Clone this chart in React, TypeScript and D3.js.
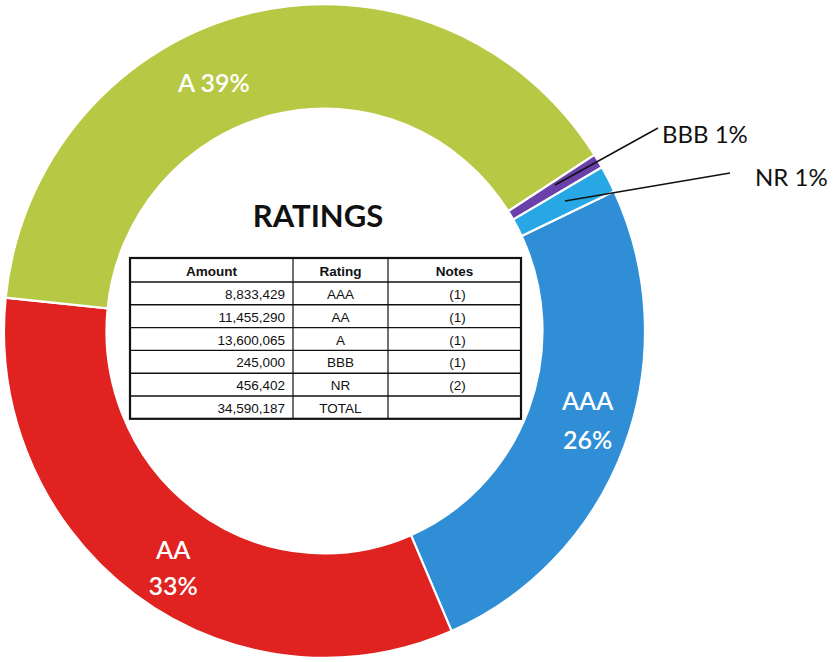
import React from "react";
import * as d3 from "d3";

const ratings = ["AAA", "AA", "A", "BBB", "NR"];
const amounts = [8833429, 11455290, 13600065, 245000, 456402];
const notes = ["(1)", "(1)", "(1)", "(1)", "(2)"];
const colors = ["#2f8ed6", "#e02220", "#b7c845", "#6a40ab", "#27a8e4"];
const totalLabel = "TOTAL";
const totalAmount = 34590187;
const headers = ["Amount", "Rating", "Notes"];

const W = 837;
const H = 662;
const cx = 324.5;
const cy = 331;
const rOuter = 320.5;
const rInner = 218;
const yScale = 1.02;

export default function App() {
  const fmt = d3.format(",");
  const pie = d3
    .pie<number>()
    .sort(null)
    .startAngle((64.7 * Math.PI) / 180)
    .endAngle((64.7 * Math.PI) / 180 + 2 * Math.PI);
  const arcs = pie(amounts);
  const arcGen = d3.arc<d3.PieArcDatum<number>>().innerRadius(rInner).outerRadius(rOuter);

  const pct = (v: number) => `${Math.round((v / totalAmount) * 100)}%`;

  const labelAt = (i: number, angleOffsetDeg: number, r: number) => {
    const a = (arcs[i].startAngle + arcs[i].endAngle) / 2 + (angleOffsetDeg * Math.PI) / 180;
    return [cx + r * Math.sin(a), cy - r * Math.cos(a) * yScale];
  };
  const [aaaX, aaaY] = labelAt(0, -2.5, 277);
  const [aaX, aaY] = labelAt(1, -3, 276);
  const [aX, aY] = labelAt(2, -11, 268);

  const tx0 = 130;
  const colX = [130, 293, 388, 521];
  const headerH = 24;
  const rowH = 22.8;
  const ty0 = 258;
  const rows = ratings.map((r, i) => [fmt(amounts[i]), r, notes[i]]);
  rows.push([fmt(totalAmount), totalLabel, ""]);
  const tableBottom = ty0 + headerH + rowH * rows.length;

  const labelFont = "Lato, 'Open Sans', sans-serif";
  const tableFont = "'Liberation Sans', Arial, sans-serif";

  return (
    <div style={{ position: "fixed", left: 0, top: 0, width: W, height: H, background: "#fff" }}>
      <svg width={W} height={H} viewBox={`0 0 ${W} ${H}`}>
        <rect width={W} height={H} fill="#ffffff" />
        <g transform={`translate(${cx},${cy}) scale(1,${yScale})`}>
          {arcs.map((a, i) => (
            <path key={ratings[i]} d={arcGen(a) || ""} fill={colors[i]} stroke="#ffffff" strokeWidth={2.2} />
          ))}
        </g>

        <g fill="#fff" fontFamily={labelFont} fontSize={25} fontWeight={600} textAnchor="middle" dominantBaseline="central">
          <text x={aX} y={aY}>{`${ratings[2]} ${pct(amounts[2])}`}</text>
          <text x={aaaX} y={aaaY - 19}>{ratings[0]}</text>
          <text x={aaaX} y={aaaY + 20}>{pct(amounts[0])}</text>
          <text x={aaX} y={aaY - 17}>{ratings[1]}</text>
          <text x={aaX} y={aaY + 19}>{pct(amounts[1])}</text>
        </g>

        <line x1={658} y1={128} x2={555} y2={185} stroke="#111" strokeWidth={1.5} />
        <text x={662} y={133} fill="#111" fontFamily={labelFont} fontSize={24} dominantBaseline="central">
          {`${ratings[3]} ${pct(amounts[3])}`}
        </text>
        <line x1={730} y1={173} x2={565} y2={201} stroke="#111" strokeWidth={1.5} />
        <text x={755} y={176} fill="#111" fontFamily={labelFont} fontSize={24} dominantBaseline="central">
          {`${ratings[4]} ${pct(amounts[4])}`}
        </text>

        <text x={318} y={215} fill="#111" fontFamily={labelFont} fontWeight={700} fontSize={31} textAnchor="middle" dominantBaseline="central">
          RATINGS
        </text>

        <g fontFamily={tableFont} fontSize={13.5} fill="#111">
          {headers.map((h, j) => (
            <text key={h} x={(colX[j] + colX[j + 1]) / 2} y={ty0 + headerH / 2 + 1} textAnchor="middle" dominantBaseline="central" fontWeight={700}>
              {h}
            </text>
          ))}
          {rows.map((row, i) => {
            const y = ty0 + headerH + rowH * i + rowH / 2 + 1;
            return (
              <g key={i}>
                <text x={colX[1] - 8} y={y} textAnchor="end" dominantBaseline="central">{row[0]}</text>
                <text x={(colX[1] + colX[2]) / 2} y={y} textAnchor="middle" dominantBaseline="central">{row[1]}</text>
                <text x={(colX[2] + colX[3]) / 2 + 3} y={y} textAnchor="middle" dominantBaseline="central">{row[2]}</text>
              </g>
            );
          })}
          {d3.range(rows.length).map((i) => (
            <line key={i} x1={tx0} x2={colX[3]} y1={ty0 + headerH + rowH * i} y2={ty0 + headerH + rowH * i} stroke="#111" strokeWidth={1.4} />
          ))}
          {[colX[1], colX[2]].map((x) => (
            <line key={x} x1={x} x2={x} y1={ty0} y2={tableBottom} stroke="#111" strokeWidth={1.2} />
          ))}
          <rect x={tx0} y={ty0} width={colX[3] - tx0} height={tableBottom - ty0} fill="none" stroke="#111" strokeWidth={2.2} />
        </g>
      </svg>
    </div>
  );
}
